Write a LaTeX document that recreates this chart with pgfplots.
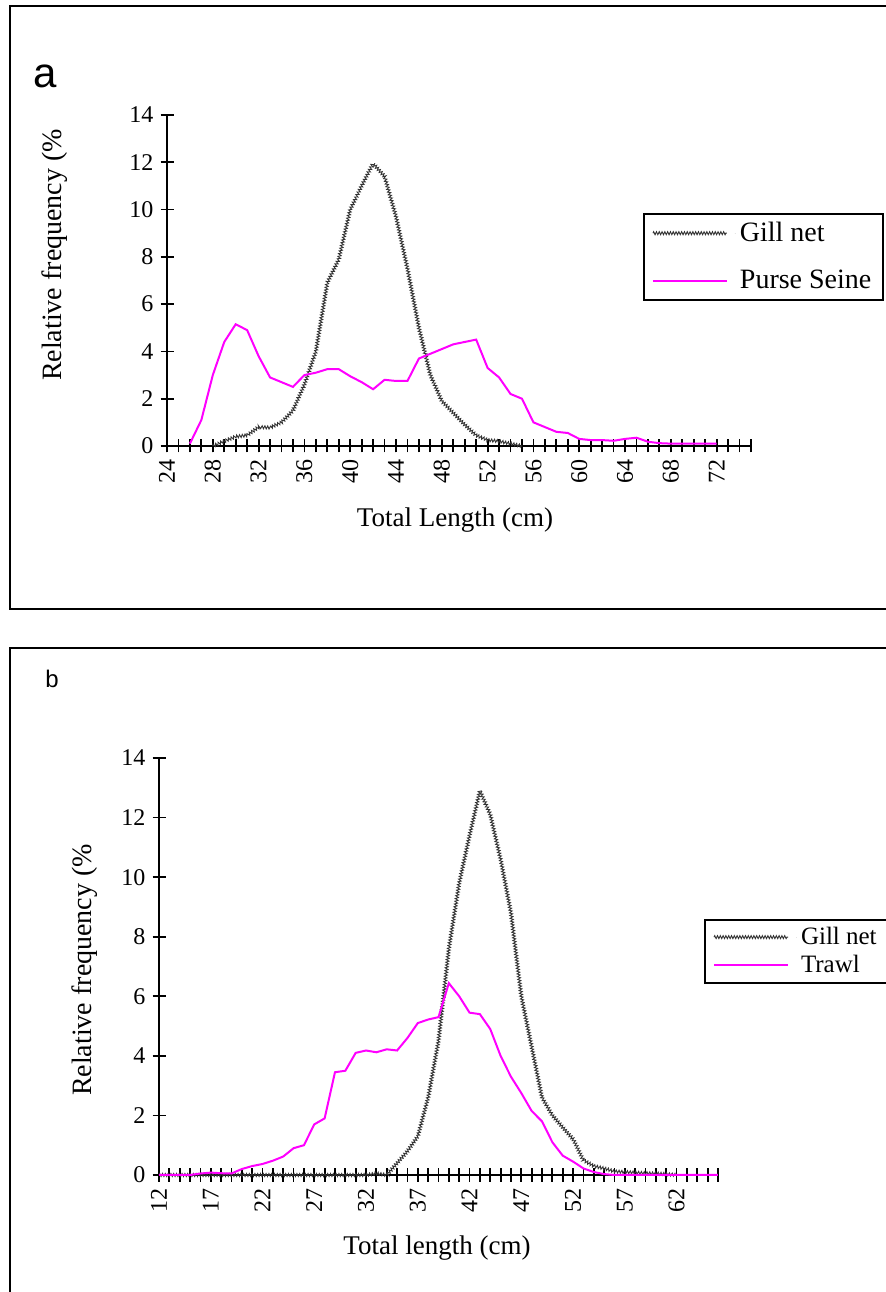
\documentclass[border=0pt]{standalone}
\usepackage{pgfplots}
\pgfplotsset{compat=1.18}
\usepackage{fontspec}
\setmainfont{Liberation Serif}
\newfontfamily\arial{Liberation Sans}
\usetikzlibrary{decorations.pathmorphing}

\definecolor{seineCol}{HTML}{FF00FF}
\definecolor{gillCol}{HTML}{333333}

\pgfplotsset{
  panel/.style={
    scale only axis, anchor=south west, clip=false,
    axis x line=bottom, axis y line=left,
    axis line style={-, line width=1pt},
    ymin=0, ymax=14, ytick={0,2,...,14},
    tick align=center, major tick length=6.5pt, minor tick length=6.5pt,
    tick style={black, line width=0.9pt},
    tick label style={font=\fontsize{12}{12}\selectfont},
    /pgf/number format/assume math mode=true,
    xticklabel style={rotate=90, anchor=east},
    legend cell align=left,
    legend style={draw=black, line width=1pt, anchor=north west,
                  inner xsep=4pt},
    legend image code/.code={\draw[#1] (1pt,0pt) -- (38pt,0pt);
                             \path (42pt,0pt);},
  },
  gillnet/.style={gillCol, line width=0.45pt, decorate,
                  decoration={zigzag, segment length=1.4pt, amplitude=0.75pt}},
  seine/.style={seineCol, line width=1pt},
}

\begin{document}
\begin{tikzpicture}
\useasboundingbox (0,0) rectangle (442.5pt,646pt);
% panel frames
\draw[line width=1pt] (5pt,341.5pt) rectangle (452pt,643pt);
\draw[line width=1pt] (5pt,-10pt) rectangle (452pt,322pt);
\node[font=\arial\fontsize{21}{21}\selectfont, anchor=base] at (22.5pt,602pt) {a};
\node[font=\arial\fontsize{12}{12}\selectfont, anchor=base west, inner sep=0pt] at (22.5pt,302pt) {b};

% ---- panel a ----
\begin{axis}[panel, at={(83.5pt,423pt)}, width=292pt, height=165.5pt,
    xmin=24, xmax=75, xtick={24,28,...,72}, minor xtick={24,...,75},
    legend style={at={(axis description cs:0.815,0.704)},
                  font=\fontsize{14}{14}\selectfont,
                  inner ysep=2pt, row sep=9pt}]
  \addplot[gillnet] coordinates {
    (28,0) (29,0.2) (30,0.4) (31,0.45) (32,0.8) (33,0.78) (34,1.0) (35,1.5)
    (36,2.6) (37,4.0) (38,6.9) (39,7.9) (40,10.0) (41,11.0) (42,11.95)
    (43,11.4) (44,9.7) (45,7.5) (46,5.0) (47,3.0) (48,1.9) (49,1.4)
    (50,0.9) (51,0.45) (52,0.25) (53,0.2) (54,0.1) (55,0)};
  \addlegendentry{Gill net}
  \addplot[seine] coordinates {
    (26,0.1) (27,1.1) (28,3.0) (29,4.4) (30,5.15) (31,4.9) (32,3.8) (33,2.9)
    (34,2.7) (35,2.5) (36,3.0) (37,3.1) (38,3.25) (39,3.25) (40,2.95)
    (41,2.7) (42,2.4) (43,2.8) (44,2.75) (45,2.75) (46,3.7) (47,3.9)
    (48,4.1) (49,4.3) (50,4.4) (51,4.5) (52,3.3) (53,2.9) (54,2.2) (55,2.0)
    (56,1.0) (57,0.8) (58,0.6) (59,0.55) (60,0.3) (61,0.25) (62,0.25)
    (63,0.22) (64,0.3) (65,0.35) (66,0.18) (67,0.12) (68,0.1) (69,0.1)
    (70,0.1) (71,0.1) (72,0.1)};
  \addlegendentry{Purse Seine}
\end{axis}
\node[rotate=90, font=\fontsize{14}{14}\selectfont] at (27.5pt,518.5pt) {Relative frequency (\%};
\node[font=\fontsize{13.5}{13.5}\selectfont] at (227.5pt,386pt) {Total Length (cm)};

% ---- panel b ----
\begin{axis}[panel, at={(79.5pt,58.5pt)}, width=279.5pt, height=208.5pt,
    xmin=12, xmax=66, xtick={12,17,...,62}, minor xtick={12,...,66},
    legend style={at={(axis description cs:0.975,0.614)},
                  font=\fontsize{12.5}{12.5}\selectfont,
                  inner ysep=1.5pt, row sep=0pt}]
  \addplot[gillnet] coordinates {
    (12,0) (13,0) (14,0) (15,0) (16,0) (17,0) (18,0) (19,0) (20,0) (21,0)
    (22,0) (23,0) (24,0) (25,0) (26,0) (27,0) (28,0) (29,0) (30,0) (31,0)
    (32,0) (33,0.05) (34,0) (35,0.4) (36,0.8) (37,1.3) (38,2.6) (39,4.5)
    (40,7.6) (41,9.8) (42,11.4) (43,12.9) (44,12.1) (45,10.6) (46,8.8)
    (47,6.0) (48,4.3) (49,2.6) (50,2.0) (51,1.6) (52,1.2) (53,0.5)
    (54,0.3) (55,0.22) (56,0.12) (57,0.1) (58,0.08) (59,0.06) (60,0.05)
    (61,0.03) (62,0)};
  \addlegendentry{Gill net}
  \addplot[seine] coordinates {
    (12,0) (13,0) (14,0) (15,0) (16,0.05) (17,0.08) (18,0.06) (19,0.05)
    (20,0.2) (21,0.3) (22,0.37) (23,0.48) (24,0.62) (25,0.9) (26,1.0)
    (27,1.7) (28,1.9) (29,3.45) (30,3.5) (31,4.1) (32,4.18) (33,4.12)
    (34,4.22) (35,4.18) (36,4.6) (37,5.1) (38,5.22) (39,5.3) (40,6.44)
    (41,6.0) (42,5.45) (43,5.4) (44,4.9) (45,4.0) (46,3.3) (47,2.75)
    (48,2.15) (49,1.8) (50,1.1) (51,0.65) (52,0.45) (53,0.22) (54,0.1)
    (55,0.03) (56,0) (57,0) (58,0) (59,0) (60,0) (61,0) (62,0) (63,0)
    (64,0) (65,0) (66,0)};
  \addlegendentry{Trawl}
\end{axis}
\node[rotate=90, font=\fontsize{14}{14}\selectfont] at (42.5pt,161pt) {Relative frequency (\%};
\node[font=\fontsize{13.5}{13.5}\selectfont] at (218.5pt,22pt) {Total length (cm)};
\end{tikzpicture}
\end{document}
